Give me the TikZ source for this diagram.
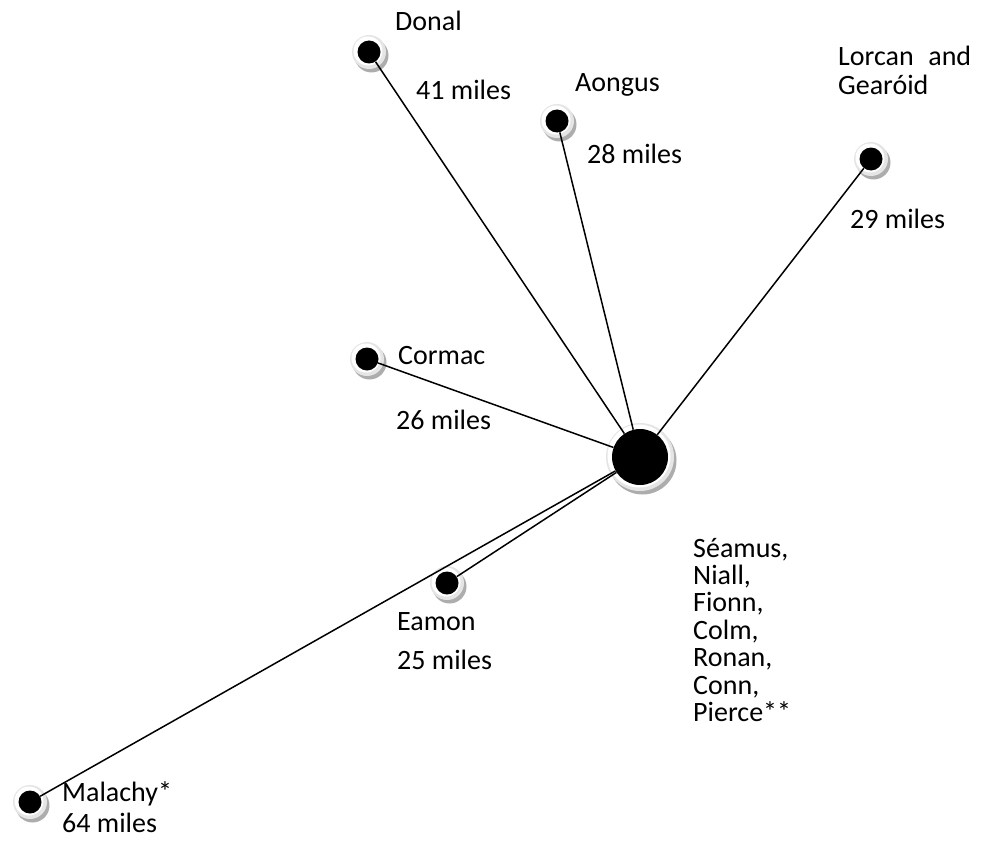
\documentclass[tikz,border=0pt]{standalone}
\usepackage{fontspec}
\setmainfont{Carlito}
\usetikzlibrary{backgrounds,calc}

\tikzset{
  dot/.style={circle, fill=black, minimum size=23pt, inner sep=0pt},
  hub/.style={circle, fill=black, minimum size=56pt, inner sep=0pt},
  link/.style={draw=black, line width=1.5pt},
  lbl/.style={anchor=base west, inner sep=0pt, font=\fontsize{28}{28}\selectfont},
}

% soft white ring with a grey drop shadow behind a disc
\newcommand\ringbehind[2]{%
  \fill[black!32] ($(#1)+(2.5,3.5)$) circle (#2);
  \fill[black!10] (#1) circle (#2);
  \fill[white] ($(#1)+(-1,-1)$) circle ({#2-2.5pt});
}

\begin{document}
\begin{tikzpicture}[x=1pt,y=-1pt]
\useasboundingbox (0,0) rectangle (984,840);

% discs
\node[hub] (hub) at (640,457) {};
\node[dot] (donal)   at (369,52)  {};
\node[dot] (aongus)  at (557,121) {};
\node[dot] (lorcan)  at (871,159) {};
\node[dot] (cormac)  at (367,359) {};
\node[dot] (eamon)   at (447,583) {};
\node[dot] (malachy) at (30,802)  {};

% rings and shadows underneath
\begin{scope}[on background layer]
  \ringbehind{hub}{34pt}
  \foreach \d in {donal,aongus,lorcan,cormac,eamon,malachy}{\ringbehind{\d}{17pt}}
\end{scope}

% connectors
\foreach \d in {donal,aongus,lorcan,cormac,eamon,malachy}
  \draw[link] (hub) -- (\d);

% labels
\node[lbl] (tdonal)  at (395,31)  {Donal};
\node[lbl] (mdonal)  at (416,100) {41 miles};
\node[lbl] (taongus) at (575,92)  {Aongus};
\node[lbl] (maongus) at (587,163) {28 miles};
\node[lbl] (tlorcan) at (838,66)  {\hbox to 133pt{Lorcan\hfill and}};
\node[lbl] (tgear)   at (838,95)  {Gearóid};
\node[lbl] (mlorcan) at (850,228) {29 miles};
\node[lbl] (tcormac) at (398,364) {Cormac};
\node[lbl] (mcormac) at (396,429) {26 miles};
\node[lbl] (teamon)  at (397,630) {Eamon};
\node[lbl] (meamon)  at (397,669) {25 miles};
\node[lbl] (hub1) at (693,557.0) {Séamus,};
\node[lbl] (hub2) at (693,584.4) {Niall,};
\node[lbl] (hub3) at (693,611.8) {Fionn,};
\node[lbl] (hub4) at (693,639.2) {Colm,};
\node[lbl] (hub5) at (693,666.6) {Ronan,};
\node[lbl] (hub6) at (693,694.0) {Conn,};
\node[lbl] (hub7) at (693,721.4) {Pierce**};
\node[lbl] (tmal)    at (62,801)  {Malachy*};
\node[lbl] (mmal)    at (62,832)  {64 miles};
\end{tikzpicture}
\end{document}
